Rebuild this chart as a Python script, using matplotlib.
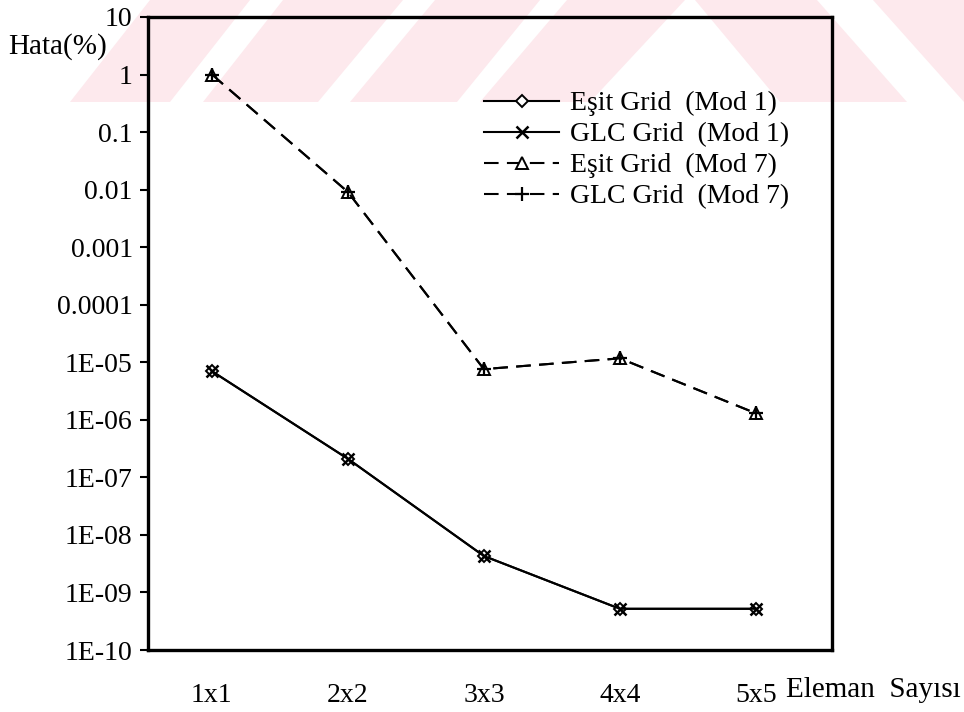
import matplotlib
matplotlib.use("Agg")
import matplotlib.pyplot as plt
from matplotlib.patches import Polygon
from matplotlib.ticker import NullLocator

# --- data -------------------------------------------------------------
categories = ["1x1", "2x2", "3x3", "4x4", "5x5"]
esit_mod1 = [7.0e-6, 2.1e-7, 4.3e-9, 5.2e-10, 5.2e-10]
glc_mod1 = [7.0e-6, 2.1e-7, 4.3e-9, 5.2e-10, 5.2e-10]
esit_mod7 = [1.0, 9.1e-3, 7.6e-6, 1.17e-5, 1.3e-6]
glc_mod7 = [1.0, 9.1e-3, 7.6e-6, 1.17e-5, 1.3e-6]
ytick_values = [1e1, 1e0, 1e-1, 1e-2, 1e-3, 1e-4, 1e-5, 1e-6, 1e-7, 1e-8, 1e-9, 1e-10]
ytick_labels = ["10", "1", "0.1", "0.01", "0.001", "0.0001", "1E-05", "1E-06",
                "1E-07", "1E-08", "1E-09", "1E-10"]
series_labels = ["Eşit Grid  (Mod 1)", "GLC Grid  (Mod 1)",
                 "Eşit Grid  (Mod 7)", "GLC Grid  (Mod 7)"]

W, H = 964, 712
plt.rcParams["font.family"] = ["Liberation Serif", "DejaVu Serif"]
FS = 20

fig = plt.figure(figsize=(W / 100, H / 100), dpi=100)
fig.patch.set_facecolor("white")


def px(x, y):
    """Pixel position (from top-left) to figure fraction."""
    return (x / W, 1 - y / H)


# faint watermark band behind the chart
pink = (253 / 255, 233 / 255, 237 / 255)
band = [
    [(70, 102), (150, 0), (250, 0), (170, 102)],
    [(203, 102), (283, 0), (403, 0), (318, 102)],
    [(350, 102), (435, 0), (540, 0), (457, 102)],
    [(480, 102), (567, 0), (685, 0), (590, 102)],
    [(695, 0), (817, 0), (907, 102), (780, 102)],
    [(873, 0), (964, 0), (964, 102)],
]
for poly in band:
    fig.add_artist(Polygon([px(*p) for p in poly], closed=True,
                           transform=fig.transFigure, facecolor=pink,
                           edgecolor="none", zorder=0))

left, right, top, bottom = 148, 832, 17, 650
ax = fig.add_axes([left / W, 1 - bottom / H, (right - left) / W, (bottom - top) / H])
ax.patch.set_alpha(0)
ax.set_zorder(1)

x = list(range(len(categories)))
dash = (0, (7, 4))
ax.plot(x, esit_mod1, color="black", lw=1.5, marker="D", ms=6,
        mfc="white", mec="black", mew=1.4, label=series_labels[0])
ax.plot(x, glc_mod1, color="black", lw=1.5, marker="x", ms=9,
        mec="black", mew=1.8, label=series_labels[1])
ax.plot(x, esit_mod7, color="black", lw=1.5, ls=dash, marker="^", ms=8,
        mfc="white", mec="black", mew=1.4, label=series_labels[2])
ax.plot(x, glc_mod7, color="black", lw=1.5, ls=dash, marker="+", ms=10,
        mec="black", mew=1.6, label=series_labels[3])

ax.set_yscale("log")
ax.set_ylim(1e-10, 10)
ax.set_xlim(-0.47, 4.56)
ax.set_yticks(ytick_values)
ax.set_yticklabels(ytick_labels)
ax.yaxis.set_minor_locator(NullLocator())
ax.set_xticks(x)
ax.set_xticklabels(categories)
ax.tick_params(axis="y", direction="out", length=6, width=1.5, labelsize=FS, pad=5)
ax.tick_params(axis="x", length=0, labelsize=FS, pad=24)

for s in ax.spines.values():
    s.set_linewidth(2.4)
    s.set_color("black")

fig.text(*px(8, 47), "Hata(%)", fontsize=21, ha="left", va="center")
fig.text(*px(786, 690), "Eleman  Sayısı", fontsize=21, ha="left", va="center")

leg = ax.legend(loc="upper left", bbox_to_anchor=px(484, 91),
                bbox_transform=fig.transFigure, frameon=False, fontsize=FS,
                handlelength=2.7, handletextpad=0.4, labelspacing=0.2,
                borderpad=0, borderaxespad=0)

fig.savefig("out.png", dpi=100, facecolor="white")
